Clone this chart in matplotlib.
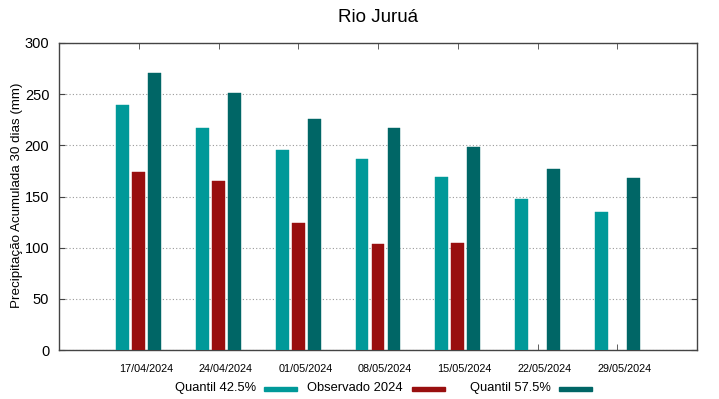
import matplotlib
matplotlib.use("Agg")
import matplotlib.pyplot as plt
from matplotlib.patches import Rectangle
import numpy as np

plt.rcParams['font.family'] = ['Liberation Sans', 'DejaVu Sans']

dates = ["17/04/2024", "24/04/2024", "01/05/2024", "08/05/2024",
         "15/05/2024", "22/05/2024", "29/05/2024"]
q425 = [239, 217, 195, 187, 169, 148, 135]
obs2024 = [174, 165, 124, 104, 105, np.nan, np.nan]
q575 = [271, 251, 226, 217, 198, 177, 168]

series_names = ["Quantil 42.5%", "Observado 2024", "Quantil 57.5%"]
colors = ["#009999", "#990f0f", "#006666"]

fig = plt.figure(figsize=(7.19, 3.99), dpi=100)
ax = fig.add_axes([59/719, 1-350/399, (697-59)/719, (350-43)/399])

x = np.arange(len(dates))
w = 0.16
off = 0.2
for vals, dx, c in zip([q425, obs2024, q575], [-off, 0, off], colors):
    ax.bar(x + dx, vals, width=w, color=c, edgecolor=c, linewidth=0.3, zorder=3)

ax.set_xlim(-1, 7)
ax.set_ylim(0, 300)
ax.set_yticks(np.arange(0, 301, 50))
# tick marks at group centres (minor), labels slightly shifted right (major, no mark)
ax.set_xticks(x, minor=True)
ax.set_xticks(x + 0.088)
ax.set_xticklabels(dates, fontsize=7.8)

ax.tick_params(axis='y', direction='in', length=4, right=True, labelsize=10.5, pad=7, color='#444444')
ax.tick_params(axis='x', which='major', length=0, pad=10)
ax.tick_params(axis='x', which='minor', direction='in', length=4, top=True, color='#444444')
ax.grid(axis='y', linestyle=(0, (1, 2)), color='#999999', linewidth=0.8, zorder=0)
ax.set_axisbelow(True)
for s in ax.spines.values():
    s.set_color('#444444')
    s.set_linewidth(1.0)

fig.text(17/719, 1-195/399, "Precipitação Acumulada 30 dias (mm)", rotation=90,
         ha='center', va='center', fontsize=9.6)
fig.text(378/719, 1-17/399, "Rio Juruá", ha='center', va='center', fontsize=13.5)

# legend: text followed by swatch
text_right = [256, 403, 551]
sw_left = [264, 412, 559]
sw_w = 33
for name, c, tr, sl in zip(series_names, colors, text_right, sw_left):
    fig.text(tr/719, 1-388/399, name, ha='right', va='center', fontsize=9.3)
    fig.patches.append(Rectangle((sl/719, 1-391/399), sw_w/719, 4.5/399,
                                 transform=fig.transFigure, color=c, figure=fig))

fig.savefig("out.png", dpi=100)
